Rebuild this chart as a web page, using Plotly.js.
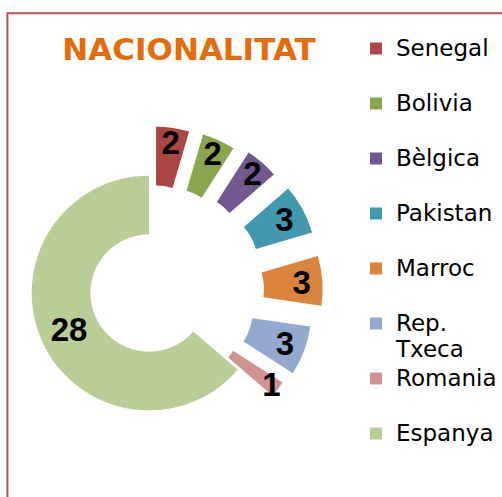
<!DOCTYPE html>
<html>
<head>
<meta charset="utf-8">
<script src="https://cdn.plot.ly/plotly-3.0.1.min.js"></script>
<style>
  html, body { margin: 0; padding: 0; background: #fff; overflow: hidden; width: 502px; height: 497px; }
  #chart { position: absolute; left: -60px; top: 0; width: 562px; height: 497px; }
</style>
</head>
<body>
<div id="chart"></div>
<script>
// ---- data ----
const categories = ['Senegal', 'Bolivia', 'Bèlgica', 'Pakistan', 'Marroc', 'Rep. Txeca', 'Romania', 'Espanya'];
const counts = [2, 2, 2, 3, 3, 3, 1, 28];
const sliceColors = ['#AA4643', '#89A54E', '#71588F', '#4198AF', '#DB843D', '#93A9CF', '#D19392', '#B9CD96'];
const pulls = [0.42, 0.43, 0.47, 0.49, 0.48, 0.41, 0.37, 0];
const chartTitle = 'NACIONALITAT';

// ---- layout helpers ----
const W = 562, H = 497, OFFSET = 60;
const cx = 154 + OFFSET, cy = 293, avail = 358;

const legendLabels = categories.map(c => {
  const lines = c.indexOf(' ') >= 0 ? c.split(' ') : [c, '\u00a0'];
  return lines.map(l => '<span style="font-size:23px">' + l + '</span>').join('<br>');
});

const trace = {
  type: 'pie',
  labels: legendLabels,
  values: counts,
  sort: false,
  direction: 'clockwise',
  rotation: 0,
  hole: 0.5,
  pull: pulls,
  marker: { colors: sliceColors, line: { width: 0 } },
  textinfo: 'value',
  textposition: 'inside',
  insidetextorientation: 'horizontal',
  textfont: { family: 'Liberation Sans, Arial, sans-serif', size: 33, color: '#000000', weight: 'bold' },
  hoverinfo: 'label+value',
  domain: {
    x: [(cx - avail / 2) / W, (cx + avail / 2) / W],
    y: [(H - cy - avail / 2) / H, (H - cy + avail / 2) / H]
  }
};

const layout = {
  width: W, height: H,
  margin: { l: 0, r: 0, t: 0, b: 0 },
  paper_bgcolor: '#ffffff',
  uniformtext: { mode: 'show', minsize: 33 },
  title: {
    text: '<b>' + chartTitle + '</b>',
    x: (189 + OFFSET) / W, xref: 'container', xanchor: 'center',
    y: 1 - 49 / H, yref: 'container', yanchor: 'middle',
    font: { family: 'DejaVu Sans, Verdana, sans-serif', size: 31, color: '#E46C0A' }
  },
  showlegend: true,
  legend: {
    x: (366 + OFFSET) / W, xanchor: 'left',
    y: 1 - 29 / H, yanchor: 'top',
    valign: 'top',
    bgcolor: 'rgba(0,0,0,0)',
    font: { family: 'DejaVu Sans, Verdana, sans-serif', size: 20, color: '#000000' }
  },
  shapes: [{
    type: 'rect', xref: 'paper', yref: 'paper',
    x0: (9 + OFFSET) / W, x1: 1.2,
    y0: -0.2, y1: 1 - 13.3 / H,
    line: { color: '#C0504D', width: 2 },
    fillcolor: 'rgba(0,0,0,0)',
    layer: 'below'
  }]
};

Plotly.newPlot('chart', [trace], layout, { displayModeBar: false, staticPlot: true });
</script>
</body>
</html>
